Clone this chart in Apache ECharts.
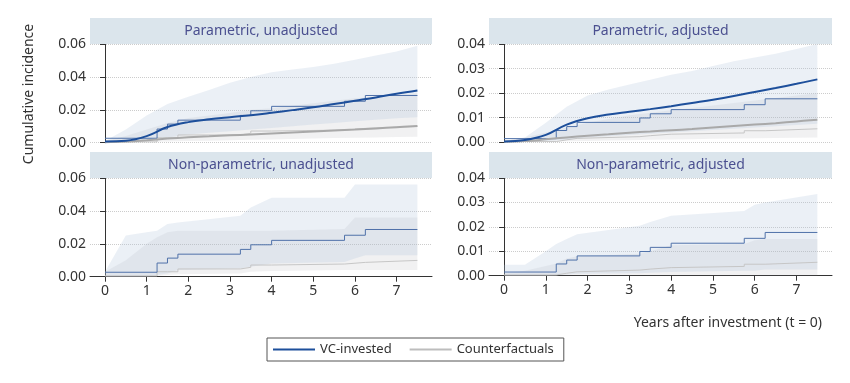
<!DOCTYPE html>
<html><head><meta charset="utf-8">
<script src="https://cdn.jsdelivr.net/npm/echarts@6/dist/echarts.min.js"></script>
<style>html,body{margin:0;padding:0;background:#fff}#c{width:850px;height:383px}</style>
</head><body><div id="c"></div>
<script>
// ---------- data ----------
const panelTitles = ['Parametric, unadjusted', 'Parametric, adjusted', 'Non-parametric, unadjusted', 'Non-parametric, adjusted'];
const xTicks = [0, 1, 2, 3, 4, 5, 6, 7];
const yLabel = 'Cumulative incidence';
const xLabel = 'Years after investment (t = 0)';
const seriesNames = ['VC-invested', 'Counterfactuals'];

// Kaplan-Meier style step estimates (non-parametric)
const stepT = [0, 1.25, 1.5, 1.75, 3.25, 3.5, 4, 5.75, 6.25, 7.5];
const npUnadjVC = [0.0027, 0.0083, 0.0113, 0.0137, 0.0166, 0.0194, 0.0221, 0.0252, 0.0287, 0.0287];
const npUnadjCF = [0.0005, 0.0030, 0.0030, 0.0047, 0.0057, 0.0071, 0.0077, 0.0087, 0.0099, 0.0099];
const npAdjVC = [0.0015, 0.0048, 0.0064, 0.0081, 0.0099, 0.0116, 0.0133, 0.0153, 0.0177, 0.0177];
const npAdjCF = [0.0003, 0.0010, 0.0016, 0.0023, 0.0027, 0.0033, 0.0038, 0.0047, 0.0055, 0.0055];

// Non-parametric confidence bands
const npBandT = [0, 0.5, 1, 1.25, 1.5, 1.75, 3.25, 3.5, 4, 5.75, 6, 6.25, 7.5];
const npUnadjVCHi = [0.003, 0.025, 0.027, 0.028, 0.032, 0.033, 0.037, 0.042, 0.048, 0.048, 0.056, 0.056, 0.056];
const npUnadjVCLo = [0.000, 0.000, 0.000, 0.001, 0.002, 0.004, 0.005, 0.006, 0.008, 0.009, 0.011, 0.013, 0.013];
const npUnadjCFHi = [0.003, 0.010, 0.020, 0.024, 0.027, 0.028, 0.028, 0.028, 0.028, 0.029, 0.036, 0.036, 0.036];
const npUnadjCFLo = [0.000, 0.000, 0.000, 0.0005, 0.001, 0.0015, 0.002, 0.003, 0.0035, 0.004, 0.004, 0.004, 0.004];
const npAdjVCHi = [0.0045, 0.0045, 0.010, 0.013, 0.015, 0.017, 0.0205, 0.022, 0.0245, 0.0265, 0.029, 0.030, 0.0335];
const npAdjVCLo = [0, 0, 0, 0.0003, 0.0005, 0.0008, 0.001, 0.0012, 0.0015, 0.002, 0.002, 0.0025, 0.0025];
const npAdjCFHi = [0.001, 0.002, 0.004, 0.005, 0.007, 0.008, 0.009, 0.010, 0.0125, 0.013, 0.0145, 0.015, 0.015];
const npAdjCFLo = [0, 0, 0, 0, 0, 0, 0, 0, 0, 0, 0, 0, 0];

// Parametric (smooth) estimates
const pT = [0, 0.5, 1, 1.5, 2, 2.5, 3, 3.5, 4, 4.5, 5, 5.5, 6, 6.5, 7, 7.5];
const pUnadjVC = [0.0008, 0.0012, 0.0040, 0.0095, 0.0125, 0.0142, 0.0155, 0.0167, 0.0182, 0.0198, 0.0215, 0.0235, 0.0255, 0.0275, 0.0298, 0.0318];
const pUnadjCF = [0.0003, 0.0007, 0.0015, 0.0025, 0.0033, 0.0039, 0.0045, 0.0050, 0.0056, 0.0062, 0.0068, 0.0074, 0.0080, 0.0087, 0.0094, 0.0101];
const pAdjVC = [0.0003, 0.0009, 0.0030, 0.0072, 0.0098, 0.0113, 0.0124, 0.0135, 0.0147, 0.0160, 0.0173, 0.0188, 0.0205, 0.0221, 0.0238, 0.0256];
const pAdjCF = [0.0002, 0.0005, 0.0012, 0.0020, 0.0027, 0.0033, 0.0039, 0.0044, 0.0049, 0.0054, 0.0060, 0.0066, 0.0072, 0.0078, 0.0085, 0.0092];

// Parametric confidence bands
const pUnadjVCHi = [0.001, 0.008, 0.0165, 0.0235, 0.028, 0.032, 0.0365, 0.040, 0.0428, 0.0445, 0.046, 0.048, 0.0505, 0.053, 0.0555, 0.059];
const pUnadjVCLo = [0, 0.0003, 0.001, 0.003, 0.005, 0.006, 0.007, 0.008, 0.009, 0.010, 0.011, 0.012, 0.013, 0.014, 0.0148, 0.0155];
const pUnadjCFHi = [0.001, 0.004, 0.008, 0.012, 0.015, 0.0165, 0.018, 0.020, 0.021, 0.0225, 0.024, 0.0255, 0.027, 0.028, 0.029, 0.030];
const pUnadjCFLo = [0, 0.0002, 0.0005, 0.0008, 0.001, 0.0012, 0.0015, 0.0018, 0.002, 0.0022, 0.0025, 0.0028, 0.003, 0.0032, 0.0034, 0.0036];
const pAdjVCHi = [0.0005, 0.002, 0.008, 0.0145, 0.019, 0.0215, 0.0235, 0.0255, 0.0275, 0.029, 0.031, 0.033, 0.0345, 0.036, 0.038, 0.040];
const pAdjVCLo = [0, 0.0002, 0.0005, 0.001, 0.002, 0.0025, 0.003, 0.0035, 0.004, 0.0045, 0.005, 0.0055, 0.006, 0.0065, 0.007, 0.0075];
const pAdjCFHi = [0.0005, 0.002, 0.004, 0.006, 0.008, 0.0095, 0.011, 0.012, 0.013, 0.014, 0.015, 0.016, 0.017, 0.018, 0.019, 0.020];
const pAdjCFLo = [0, 0.0001, 0.0002, 0.0004, 0.0005, 0.0007, 0.0008, 0.001, 0.0011, 0.0012, 0.0014, 0.0015, 0.0016, 0.0018, 0.0019, 0.002];

// ---------- build ----------
const FONT = 'Noto Sans';
const C_VC = '#1d4f9b', C_VC_STEP = '#4f71a9', C_CF = '#a9a9a9', C_CF_STEP = '#c6c6c6';
const BAND_VC = 'rgba(178,196,222,0.26)', BAND_CF = 'rgba(160,160,170,0.15)';

const grids = [
  {left: 90, top: 44, width: 342, height: 98.7},
  {left: 489, top: 44, width: 343, height: 98.3},
  {left: 90, top: 178, width: 342, height: 98.7},
  {left: 489, top: 178, width: 343, height: 97.7}
];
const stripH = 26;

const pairs = (t, v) => t.map((x, i) => [x, v[i]]);

// Confidence band drawn as one polygon through the axis scales (api.coord)
function band(gi, t, lo, hi, color) {
  return {
    type: 'custom', name: 'band', xAxisIndex: gi, yAxisIndex: gi, silent: true, z: 1, clip: true,
    data: pairs(t, hi),
    renderItem: function (params, api) {
      if (params.dataIndex !== 0) return null;
      const top = t.map((x, i) => api.coord([x, hi[i]]));
      const bot = t.map((x, i) => api.coord([x, lo[i]])).reverse();
      return {type: 'polygon', shape: {points: top.concat(bot)}, style: {fill: color, stroke: null}};
    }
  };
}
function stepLine(gi, name, t, v, color) {
  return {type: 'line', name: name, xAxisIndex: gi, yAxisIndex: gi, step: 'end', data: pairs(t, v), symbol: 'none',
          lineStyle: {color: color, width: 1}, itemStyle: {color: color}, z: 3};
}
function smoothLine(gi, name, t, v, color) {
  return {type: 'line', name: name, xAxisIndex: gi, yAxisIndex: gi, smooth: 0.4, data: pairs(t, v), symbol: 'none',
          lineStyle: {color: color, width: 2}, itemStyle: {color: color}, z: 4};
}

const panels = [
  {bT: pT, vcHi: pUnadjVCHi, vcLo: pUnadjVCLo, cfHi: pUnadjCFHi, cfLo: pUnadjCFLo, sVC: npUnadjVC, sCF: npUnadjCF, pVC: pUnadjVC, pCF: pUnadjCF},
  {bT: pT, vcHi: pAdjVCHi, vcLo: pAdjVCLo, cfHi: pAdjCFHi, cfLo: pAdjCFLo, sVC: npAdjVC, sCF: npAdjCF, pVC: pAdjVC, pCF: pAdjCF},
  {bT: npBandT, vcHi: npUnadjVCHi, vcLo: npUnadjVCLo, cfHi: npUnadjCFHi, cfLo: npUnadjCFLo, sVC: npUnadjVC, sCF: npUnadjCF},
  {bT: npBandT, vcHi: npAdjVCHi, vcLo: npAdjVCLo, cfHi: npAdjCFHi, cfLo: npAdjCFLo, sVC: npAdjVC, sCF: npAdjCF}
];

const series = [];
panels.forEach((p, i) => {
  series.push(band(i, p.bT, p.cfLo, p.cfHi, BAND_CF));
  series.push(band(i, p.bT, p.vcLo, p.vcHi, BAND_VC));
  series.push(stepLine(i, seriesNames[1], stepT, p.sCF, C_CF_STEP));
  series.push(stepLine(i, seriesNames[0], stepT, p.sVC, C_VC_STEP));
  if (p.pVC) {
    series.push(smoothLine(i, seriesNames[1], pT, p.pCF, C_CF));
    series.push(smoothLine(i, seriesNames[0], pT, p.pVC, C_VC));
  }
});

const xAxes = grids.map((g, i) => {
  const bottom = i >= 2;
  return {
    gridIndex: i, type: 'value', min: -0.36, max: 7.85,
    axisLine: {show: bottom, onZero: false, lineStyle: {color: '#333', width: 1}},
    axisTick: {show: bottom, customValues: xTicks, length: 5, lineStyle: {color: '#333'}},
    axisLabel: {show: bottom, customValues: xTicks, fontSize: 14, color: '#333', margin: 7, fontFamily: FONT},
    splitLine: {show: false}
  };
});
const yAxes = grids.map((g, i) => {
  const right = i % 2 === 1;
  return {
    gridIndex: i, type: 'value', min: 0, max: right ? 0.04 : 0.06, interval: right ? 0.01 : 0.02,
    axisLine: {show: true, lineStyle: {color: '#333', width: 1}},
    axisTick: {show: true, length: 5, lineStyle: {color: '#333'}},
    axisLabel: {formatter: v => v.toFixed(2), fontSize: 14, color: '#333', margin: 4, fontFamily: FONT},
    splitLine: {show: true, lineStyle: {type: 'dotted', color: '#cccccc', width: 1}}
  };
});

const graphic = [];
grids.forEach((g, i) => {
  graphic.push({type: 'rect', z: 10, shape: {x: g.left, y: g.top - stripH, width: g.width, height: stripH}, style: {fill: '#dbe5ec'}});
  graphic.push({type: 'text', z: 11, x: g.left + g.width / 2, y: g.top - stripH / 2,
    style: {text: panelTitles[i], fill: '#4b5090', font: '14px "' + FONT + '"', textAlign: 'center', textVerticalAlign: 'middle'}});
});
graphic.push({type: 'text', z: 11, x: 29, y: 94, rotation: Math.PI / 2,
  style: {text: yLabel, fill: '#333', font: '14px "' + FONT + '"', textAlign: 'center', textVerticalAlign: 'middle'}});
graphic.push({type: 'text', z: 11, x: 822, y: 323,
  style: {text: xLabel, fill: '#333', font: '14px "' + FONT + '"', textAlign: 'right', textVerticalAlign: 'middle'}});

const chart = echarts.init(document.getElementById('c'), null, {renderer: 'canvas'});
chart.setOption({
  animation: false,
  backgroundColor: '#fff',
  grid: grids,
  xAxis: xAxes,
  yAxis: yAxes,
  series: series,
  graphic: graphic,
  legend: {
    left: 267, top: 338, orient: 'horizontal',
    data: [{name: seriesNames[0], itemStyle: {color: C_VC}}, {name: seriesNames[1], itemStyle: {color: '#bdbdbd'}}],
    icon: 'rect', itemWidth: 42, itemHeight: 2, itemGap: 18,
    padding: [5, 10, 5, 6], borderColor: '#555', borderWidth: 1,
    textStyle: {fontSize: 13, color: '#333', fontFamily: FONT}
  }
});
</script></body></html>
